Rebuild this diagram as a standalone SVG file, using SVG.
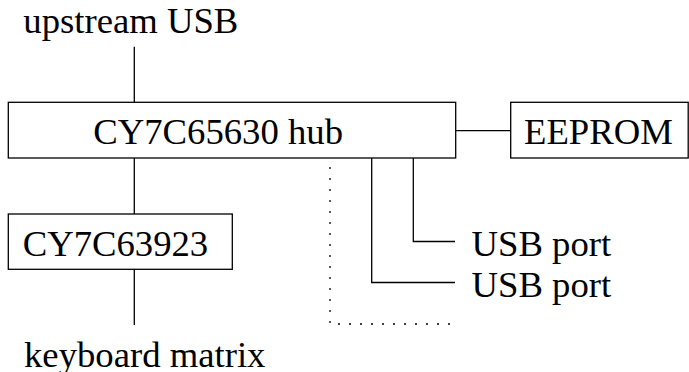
<svg xmlns="http://www.w3.org/2000/svg" width="689" height="372" viewBox="0 0 689 372">
<style>
.box{fill:#fff;stroke:#000;stroke-width:1.3}
.ln{fill:none;stroke:#000;stroke-width:1.3}
.dot{fill:none;stroke:#000;stroke-width:1.3;stroke-dasharray:2 9}
text{font-family:"Liberation Serif","Times New Roman",serif;font-size:36.7px;fill:#000}
</style>
<rect width="689" height="372" fill="#fff"/>
<g id="connectors">
<path class="ln" d="M134.3 46.7V102.3"/>
<path class="ln" d="M134.3 158V214"/>
<path class="ln" d="M134.3 269.3V325"/>
<path class="ln" d="M455.7 130.7H510.7"/>
<path class="ln" d="M413.3 158V241.5H455"/>
<path class="ln" d="M371.7 158V282.5H455"/>
<path class="dot" d="M330 167V324H452"/>
</g>
<g id="upstream"><text x="23.3" y="33">upstream USB</text></g>
<g id="hub"><rect class="box" x="8.3" y="102.3" width="447.4" height="55.7"/><text x="93.3" y="144">CY7C65630 hub</text></g>
<g id="eeprom"><rect class="box" x="510.7" y="102.3" width="177.5" height="55.7"/><text x="524" y="144">EEPROM</text></g>
<g id="kbc"><rect class="box" x="8.3" y="214" width="224" height="55.3"/><text x="22.7" y="255.5">CY7C63923</text></g>
<g id="port1"><text x="471.5" y="256">USB port</text></g>
<g id="port2"><text x="471.5" y="297">USB port</text></g>
<g id="matrix"><text x="24" y="366.5">keyboard matrix</text></g>
</svg>
